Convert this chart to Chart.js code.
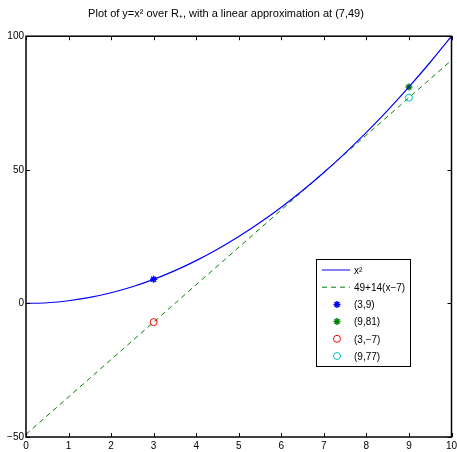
<!DOCTYPE html>
<html>
<head>
  <meta name="viewport" content="width=device-width, initial-scale=1.0">
  <title>Plot of y=x^2</title>
  <script src="https://cdn.jsdelivr.net/npm/chart.js"></script>
  <style>
    html, body {
      margin: 0;
      padding: 0;
      background-color: #fff;
    }
    #wrap {
      width: 457px;
      height: 452px;
    }
  </style>
</head>
<body>
  <div id="wrap"><canvas id="myChart"></canvas></div>

  <script>
    // values
    const curveX = [0, 0.5, 1, 1.5, 2, 2.5, 3, 3.5, 4, 4.5, 5, 5.5, 6, 6.5, 7, 7.5, 8, 8.5, 9, 9.5, 10];
    const curveY = [0, 0.25, 1, 2.25, 4, 6.25, 9, 12.25, 16, 20.25, 25, 30.25, 36, 42.25, 49, 56.25, 64, 72.25, 81, 90.25, 100];
    const tangentX = [0, 10];
    const tangentY = [-49, 91];
    const pointLabels = ['(3,9)', '(9,81)', '(3,\u22127)', '(9,77)'];
    const pointX = [3, 9, 3, 9];
    const pointY = [9, 81, -7, 77];
    const xTicks = [0, 1, 2, 3, 4, 5, 6, 7, 8, 9, 10];
    const yTicks = [-50, 0, 50, 100];

    const font = "'Liberation Sans', Arial, sans-serif";

    const toXY = (xs, ys) => xs.map((x, i) => ({ x: x, y: ys[i] }));

    const pointStyles = [
      { color: '#0000ff', style: 'star', r: 3.5 },
      { color: '#008000', style: 'star', r: 3.5 },
      { color: '#ff0000', style: 'circle', r: 3.5 },
      { color: '#00bfbf', style: 'circle', r: 3.5 }
    ];

    const datasets = [
      {
        label: 'x\u00b2',
        data: toXY(curveX, curveY),
        borderColor: '#0000ff',
        borderWidth: 1.2,
        pointRadius: 0,
        cubicInterpolationMode: 'monotone',
        fill: false
      },
      {
        label: '49+14(x\u22127)',
        data: toXY(tangentX, tangentY),
        borderColor: '#008000',
        borderWidth: 1,
        borderDash: [5, 4],
        pointRadius: 0,
        fill: false
      }
    ];

    pointLabels.forEach((lab, i) => {
      datasets.push({
        label: lab,
        data: [{ x: pointX[i], y: pointY[i] }],
        showLine: false,
        pointStyle: pointStyles[i].style,
        pointRadius: pointStyles[i].r,
        borderColor: pointStyles[i].color,
        backgroundColor: 'rgba(0,0,0,0)',
        borderWidth: pointStyles[i].style === 'star' ? 1.5 : 1
      });
    });

    // box with inward ticks on all four sides
    const framePlugin = {
      id: 'frame',
      afterDatasetsDraw(chart) {
        const { ctx, chartArea: a, scales } = chart;
        ctx.save();
        ctx.strokeStyle = '#000';
        ctx.lineWidth = 1;
        xTicks.forEach(v => {
          const px = Math.round(scales.x.getPixelForValue(v)) + 0.5;
          ctx.beginPath();
          ctx.moveTo(px, a.bottom); ctx.lineTo(px, a.bottom - 4);
          ctx.moveTo(px, a.top); ctx.lineTo(px, a.top + 4);
          ctx.stroke();
        });
        yTicks.forEach(v => {
          const py = Math.round(scales.y.getPixelForValue(v)) + 0.5;
          ctx.beginPath();
          ctx.moveTo(a.left, py); ctx.lineTo(a.left + 4, py);
          ctx.moveTo(a.right, py); ctx.lineTo(a.right - 4, py);
          ctx.stroke();
        });
        ctx.lineWidth = 1.5;
        ctx.strokeRect(a.left, a.top, a.right - a.left, a.bottom - a.top);
        ctx.restore();
      }
    };

    // legend box inside the plot, like the original
    const insideLegend = {
      id: 'insideLegend',
      afterDraw(chart) {
        const ctx = chart.ctx;
        const x0 = 316, y0 = 259, w = 94, h = 107, rowH = 17.2;
        ctx.save();
        ctx.fillStyle = '#fff';
        ctx.fillRect(x0, y0, w, h);
        ctx.strokeStyle = '#000';
        ctx.lineWidth = 1;
        ctx.strokeRect(x0 + 0.5, y0 + 0.5, w, h);
        ctx.font = '10px ' + font;
        ctx.textBaseline = 'middle';
        chart.data.datasets.forEach((ds, i) => {
          const cy = y0 + 11 + i * rowH;
          const cx = x0 + 21;
          ctx.strokeStyle = ds.borderColor;
          if (i < 2) {
            ctx.lineWidth = 1;
            ctx.setLineDash(ds.borderDash || []);
            ctx.beginPath();
            ctx.moveTo(x0 + 6, cy); ctx.lineTo(x0 + 34, cy);
            ctx.stroke();
            ctx.setLineDash([]);
          } else {
            ctx.lineWidth = ds.borderWidth;
            ctx.beginPath();
            const r = ds.pointRadius;
            if (ds.pointStyle === 'circle') {
              ctx.arc(cx, cy, r, 0, Math.PI * 2);
            } else {
              for (let k = 0; k < 4; k++) {
                const ang = k * Math.PI / 4;
                ctx.moveTo(cx - r * Math.cos(ang), cy - r * Math.sin(ang));
                ctx.lineTo(cx + r * Math.cos(ang), cy + r * Math.sin(ang));
              }
            }
            ctx.stroke();
          }
          ctx.fillStyle = '#000';
          ctx.fillText(ds.label, x0 + 38, cy + 1);
        });
        ctx.restore();
      }
    };

    const ctx = document.getElementById('myChart').getContext('2d');
    const chart = new Chart(ctx, {
      type: 'line',
      data: { datasets: datasets },
      options: {
        responsive: true,
        maintainAspectRatio: false,
        animation: false,
        layout: { padding: { left: 0, right: 5, top: 0, bottom: 0 } },
        plugins: {
          legend: { display: false },
          tooltip: { enabled: false },
          title: {
            display: true,
            text: 'Plot of y=x\u00b2 over R\u208a, with a linear approximation at (7,49)',
            color: '#000',
            font: { family: font, size: 11, weight: 'normal' },
            padding: { top: 7, bottom: 16 }
          }
        },
        scales: {
          x: {
            type: 'linear',
            min: 0,
            max: 10,
            afterBuildTicks(scale) { scale.ticks = xTicks.map(v => ({ value: v })); },
            afterFit(scale) {
              scale.height = 15;
              scale.paddingLeft = 0;
              scale.paddingRight = 0;
            },
            grid: { display: false, drawTicks: false },
            border: { display: false },
            ticks: { color: '#000', padding: 3, maxRotation: 0, font: { family: font, size: 10 } }
          },
          y: {
            type: 'linear',
            min: -50,
            max: 100,
            afterBuildTicks(scale) { scale.ticks = yTicks.map(v => ({ value: v })); },
            afterFit(scale) { scale.width = 26; },
            grid: { display: false, drawTicks: false },
            border: { display: false },
            ticks: {
              color: '#000', padding: 2, font: { family: font, size: 10 },
              callback: v => (v < 0 ? '\u2212' + Math.abs(v) : String(v))
            }
          }
        }
      },
      plugins: [framePlugin, insideLegend]
    });
  </script>
</body>
</html>
